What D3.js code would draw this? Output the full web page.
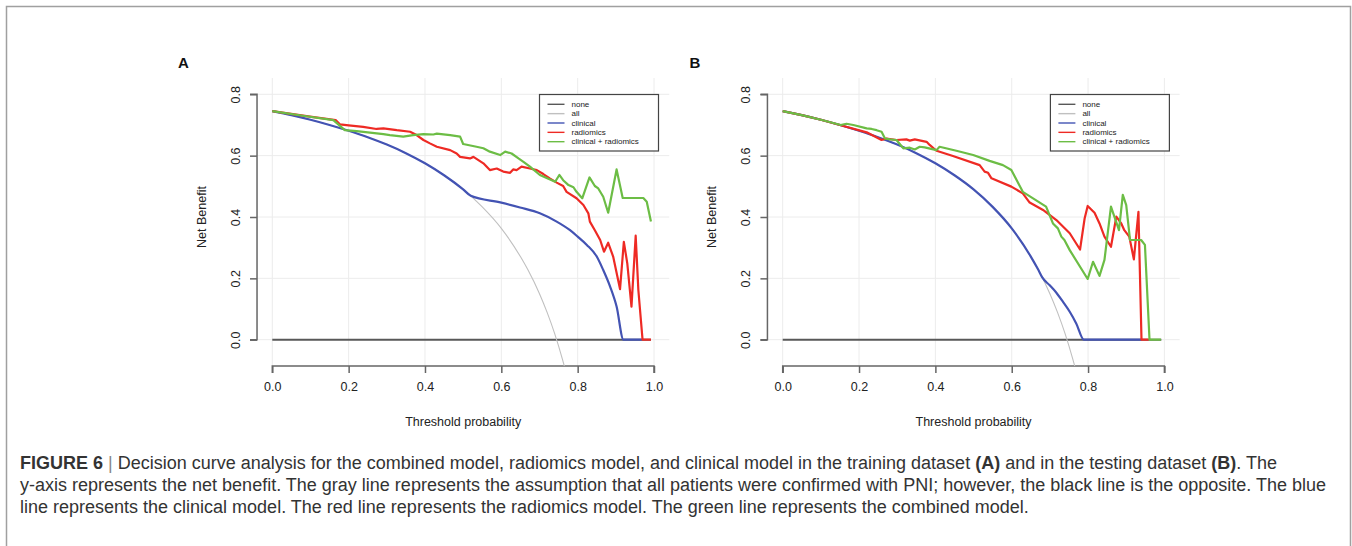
<!DOCTYPE html>
<html>
<head>
<meta charset="utf-8">
<script src="https://cdn.jsdelivr.net/npm/d3@7"></script>
<style>
  html, body { margin: 0; padding: 0; background: #fff; }
  svg { display: block; }
</style>
</head>
<body>
<svg id="chart" width="1352" height="546"></svg>
<script>
// ---------------- DATA ----------------
const xTicks = [0, 0.2, 0.4, 0.6, 0.8, 1.0];
const yTicks = [0, 0.2, 0.4, 0.6, 0.8];
const legendLabels = ["none", "all", "clinical", "radiomics", "clinical + radiomics"];

// "none": treat nobody
const noneLine = [[0, 0], [0.992, 0]];

// "all": treat everybody (same in both panels)
const allCurve = [
  [0, 0.745], [0.05, 0.732], [0.1, 0.717], [0.15, 0.700], [0.2, 0.681], [0.25, 0.660],
  [0.3, 0.636], [0.35, 0.608], [0.4, 0.575], [0.45, 0.536], [0.5, 0.490], [0.55, 0.433],
  [0.6, 0.363], [0.65, 0.271], [0.67, 0.227], [0.7, 0.150], [0.72, 0.089], [0.74, 0.019],
  [0.76, -0.063], [0.77, -0.109], [0.78, -0.159]
];

// Panel A (training dataset)
const aClinical = [
  [0, 0.745], [0.05, 0.732], [0.1, 0.717], [0.15, 0.700], [0.2, 0.681], [0.25, 0.660],
  [0.3, 0.636], [0.35, 0.608], [0.4, 0.575], [0.45, 0.536], [0.5, 0.490], [0.52, 0.469],
  [0.6, 0.447], [0.649, 0.431], [0.701, 0.412], [0.745, 0.385], [0.78, 0.357], [0.8, 0.336],
  [0.824, 0.309], [0.85, 0.271], [0.867, 0.227], [0.885, 0.173], [0.902, 0.108], [0.92, 0],
  [0.968, 0]
];
const aRadiomics = [
  [0, 0.745], [0.099, 0.727], [0.166, 0.716], [0.177, 0.702], [0.2, 0.699], [0.238, 0.694],
  [0.273, 0.687], [0.291, 0.689], [0.326, 0.683], [0.361, 0.678], [0.378, 0.667], [0.396, 0.651],
  [0.413, 0.640], [0.431, 0.629], [0.466, 0.618], [0.483, 0.607], [0.492, 0.596], [0.518, 0.591],
  [0.527, 0.596], [0.553, 0.575], [0.570, 0.553], [0.588, 0.558], [0.605, 0.548], [0.623, 0.544],
  [0.631, 0.555], [0.640, 0.553], [0.653, 0.564], [0.675, 0.558], [0.693, 0.553], [0.710, 0.540],
  [0.727, 0.526], [0.745, 0.512], [0.762, 0.501], [0.771, 0.482], [0.797, 0.461], [0.815, 0.439],
  [0.828, 0.412], [0.832, 0.385], [0.845, 0.357], [0.859, 0.325], [0.869, 0.287], [0.880, 0.316],
  [0.893, 0.271], [0.911, 0.165], [0.921, 0.319], [0.930, 0.249], [0.941, 0.108], [0.952, 0.339],
  [0.959, 0.162], [0.970, 0], [0.992, 0]
];
const aCombined = [
  [0, 0.745], [0.080, 0.730], [0.160, 0.716], [0.190, 0.683], [0.221, 0.680], [0.256, 0.675],
  [0.291, 0.670], [0.308, 0.667], [0.343, 0.662], [0.369, 0.667], [0.396, 0.670], [0.422, 0.669],
  [0.431, 0.672], [0.466, 0.667], [0.492, 0.662], [0.500, 0.638], [0.535, 0.629], [0.553, 0.624],
  [0.570, 0.613], [0.597, 0.602], [0.610, 0.613], [0.627, 0.607], [0.645, 0.591], [0.658, 0.580],
  [0.675, 0.564], [0.701, 0.537], [0.741, 0.515], [0.752, 0.537], [0.762, 0.520], [0.776, 0.504],
  [0.789, 0.497], [0.797, 0.482], [0.812, 0.461], [0.831, 0.529], [0.845, 0.501], [0.854, 0.493],
  [0.867, 0.466], [0.880, 0.414], [0.902, 0.555], [0.918, 0.462], [0.972, 0.462], [0.981, 0.450],
  [0.992, 0.385]
];

// Panel B (testing dataset)
const bClinical = [
  [0, 0.745], [0.05, 0.732], [0.1, 0.717], [0.15, 0.700], [0.2, 0.681], [0.25, 0.660],
  [0.3, 0.636], [0.35, 0.608], [0.4, 0.575], [0.45, 0.536], [0.5, 0.490], [0.55, 0.433],
  [0.6, 0.363], [0.65, 0.271], [0.67, 0.227], [0.68, 0.203], [0.699, 0.178], [0.717, 0.153],
  [0.734, 0.124], [0.752, 0.091], [0.769, 0.053], [0.789, 0], [0.94, 0]
];
const bRadiomics = [
  [0, 0.745], [0.05, 0.732], [0.1, 0.717], [0.152, 0.699], [0.22, 0.676], [0.259, 0.651],
  [0.272, 0.656], [0.298, 0.651], [0.324, 0.653], [0.333, 0.649], [0.346, 0.653], [0.377, 0.645],
  [0.385, 0.635], [0.403, 0.616], [0.446, 0.599], [0.516, 0.569], [0.529, 0.548], [0.538, 0.544],
  [0.547, 0.526], [0.599, 0.499], [0.629, 0.477], [0.647, 0.447], [0.682, 0.423], [0.717, 0.390],
  [0.752, 0.347], [0.779, 0.294], [0.791, 0.395], [0.799, 0.436], [0.817, 0.414], [0.830, 0.379],
  [0.843, 0.336], [0.860, 0.303], [0.874, 0.401], [0.887, 0.379], [0.895, 0.357], [0.908, 0.336],
  [0.920, 0.262], [0.932, 0.417], [0.940, 0], [0.959, 0]
];
const bCombined = [
  [0, 0.745], [0.05, 0.732], [0.1, 0.717], [0.152, 0.700], [0.167, 0.704], [0.185, 0.700],
  [0.220, 0.689], [0.233, 0.687], [0.246, 0.683], [0.259, 0.678], [0.268, 0.656], [0.281, 0.653],
  [0.298, 0.651], [0.316, 0.624], [0.333, 0.626], [0.346, 0.620], [0.359, 0.629], [0.372, 0.627],
  [0.403, 0.618], [0.411, 0.629], [0.455, 0.616], [0.499, 0.602], [0.542, 0.583], [0.577, 0.569],
  [0.599, 0.553], [0.629, 0.482], [0.690, 0.434], [0.708, 0.379], [0.721, 0.363], [0.730, 0.336],
  [0.738, 0.325], [0.752, 0.292], [0.799, 0.198], [0.813, 0.254], [0.830, 0.208], [0.843, 0.260],
  [0.860, 0.434], [0.881, 0.357], [0.891, 0.472], [0.900, 0.439], [0.910, 0.325], [0.939, 0.325],
  [0.949, 0.309], [0.961, 0], [0.991, 0]
];

const captionLines = [
  [{t: "FIGURE 6", b: true}, {t: " | ", b: false, light: true}, {t: "Decision curve analysis for the combined model, radiomics model, and clinical model in the training dataset ", b: false}, {t: "(A)", b: true}, {t: " and in the testing dataset ", b: false}, {t: "(B)", b: true}, {t: ". The", b: false}],
  [{t: "y-axis represents the net benefit. The gray line represents the assumption that all patients were confirmed with PNI; however, the black line is the opposite. The blue", b: false}],
  [{t: "line represents the clinical model. The red line represents the radiomics model. The green line represents the combined model.", b: false}]
];

// ---------------- STYLE ----------------
const colors = { none: "#585858", all: "#c0c0c0", clinical: "#4353b3", radiomics: "#ee2a24", combined: "#6cbd45" };
const FONT = "'Liberation Sans', Arial, Helvetica, sans-serif";

const panels = [
  { label: "A", ox: 0,   series: [aClinical, aRadiomics, aCombined] },
  { label: "B", ox: 510.4, series: [bClinical, bRadiomics, bCombined] }
];

const svg = d3.select("#chart");

// figure frame
svg.append("path")
  .attr("d", "M6.5,546 V6.5 H1350.5 V546")
  .attr("fill", "none").attr("stroke", "#a0a0a0").attr("stroke-width", 1.5);

const defs = svg.append("defs");

panels.forEach((p, i) => {
  const x0 = 272.3 + p.ox, x1 = 654 + p.ox;
  const x = d3.scaleLinear().domain([0, 1]).range([x0, x1]);
  const y = d3.scaleLinear().domain([0, 0.8]).range([339.7, 94.3]);
  const left = x(-0.04), right = x(1.04), top = 78, bottom = 366;

  const g = svg.append("g");

  defs.append("clipPath").attr("id", "clip" + i)
    .append("rect").attr("x", left).attr("y", top).attr("width", right - left).attr("height", bottom - top);

  // grid
  g.append("g").selectAll("line.vg").data(xTicks).join("line")
    .attr("x1", d => x(d)).attr("x2", d => x(d)).attr("y1", top).attr("y2", bottom)
    .attr("stroke", "#ececec").attr("stroke-width", 1);
  g.append("g").selectAll("line.hg").data(yTicks).join("line")
    .attr("x1", left).attr("x2", right).attr("y1", d => y(d)).attr("y2", d => y(d))
    .attr("stroke", "#ececec").attr("stroke-width", 1);

  // axes
  const xAxis = d3.axisBottom(x).tickValues(xTicks).tickFormat(d3.format(".1f")).tickSize(7).tickPadding(9);
  const gx = g.append("g").attr("transform", `translate(0,${bottom})`).call(xAxis);
  gx.select(".domain").attr("d", `M${x0},7V0H${x1}V7`);
  const yAxis = d3.axisLeft(y).tickValues(yTicks).tickFormat(d3.format(".1f")).tickSize(7).tickPadding(4);
  const gy = g.append("g").attr("transform", `translate(${left},0)`).call(yAxis);
  gy.select(".domain").attr("d", `M-7,${y(0)}H0V${y(0.8)}H-7`);
  [gx, gy].forEach(a => {
    a.selectAll("path,line").attr("stroke", "#666").attr("stroke-width", 1.5);
    a.selectAll("text").attr("font-family", FONT).attr("font-size", 12.5).attr("fill", "#222");
  });
  gy.selectAll(".tick text")
    .attr("text-anchor", "middle").attr("dy", null).attr("x", null)
    .attr("transform", "translate(-21,0) rotate(-90)")
    .attr("dominant-baseline", "central");

  // axis titles
  g.append("text").attr("x", (x0 + x1) / 2).attr("y", 426).attr("text-anchor", "middle")
    .attr("font-family", FONT).attr("font-size", 12.5).attr("fill", "#222").text("Threshold probability");
  g.append("text").attr("transform", `translate(${left - 55},${(y(0) + y(0.8)) / 2}) rotate(-90)`)
    .attr("text-anchor", "middle").attr("dominant-baseline", "central")
    .attr("font-family", FONT).attr("font-size", 12.5).attr("fill", "#222").text("Net Benefit");

  // panel letter
  g.append("text").attr("x", 178 + p.ox + (i ? 1 : 0)).attr("y", 68)
    .attr("font-family", FONT).attr("font-weight", "bold").attr("font-size", 15).attr("fill", "#111").text(p.label);

  // lines
  const lineLin = d3.line().x(d => x(d[0])).y(d => y(d[1]));
  const lineSmooth = d3.line().x(d => x(d[0])).y(d => y(d[1])).curve(d3.curveMonotoneX);
  const plot = g.append("g").attr("clip-path", `url(#clip${i})`).attr("fill", "none")
    .attr("stroke-linejoin", "round");
  plot.append("path").attr("d", lineLin(noneLine)).attr("stroke", colors.none).attr("stroke-width", 2);
  plot.append("path").attr("d", lineSmooth(allCurve)).attr("stroke", colors.all).attr("stroke-width", 1.1);
  plot.append("path").attr("d", lineSmooth(p.series[0])).attr("stroke", colors.clinical).attr("stroke-width", 2.2);
  plot.append("path").attr("d", lineLin(p.series[1])).attr("stroke", colors.radiomics).attr("stroke-width", 2.2);
  plot.append("path").attr("d", lineLin(p.series[2])).attr("stroke", colors.combined).attr("stroke-width", 2.2);

  // legend
  const lx = 539.5 + p.ox + (i ? 0.5 : 0), ly = 94.5;
  const lg = g.append("g");
  lg.append("rect").attr("x", lx).attr("y", ly).attr("width", 119).attr("height", 56.5)
    .attr("fill", "#fff").attr("stroke", "#444").attr("stroke-width", 1.2);
  const lcols = [colors.none, colors.all, colors.clinical, colors.radiomics, colors.combined];
  legendLabels.forEach((lab, k) => {
    const yy = ly + 9.8 + k * 9.35;
    lg.append("line").attr("x1", lx + 8).attr("x2", lx + 25).attr("y1", yy).attr("y2", yy)
      .attr("stroke", lcols[k]).attr("stroke-width", 1.4);
    lg.append("text").attr("x", lx + 32).attr("y", yy).attr("dominant-baseline", "central")
      .attr("font-family", FONT).attr("font-size", 8).attr("fill", "#222").text(lab);
  });
});

// caption
const cap = svg.append("g");
captionLines.forEach((parts, k) => {
  const t = cap.append("text").attr("x", 20).attr("y", 469 + k * 22)
    .attr("font-family", FONT).attr("font-size", 18).attr("fill", "#333");
  parts.forEach(pt => {
    t.append("tspan").attr("font-weight", pt.b ? "bold" : "normal")
      .attr("fill", pt.light ? "#888" : null).text(pt.t);
  });
});
</script>
</body>
</html>
